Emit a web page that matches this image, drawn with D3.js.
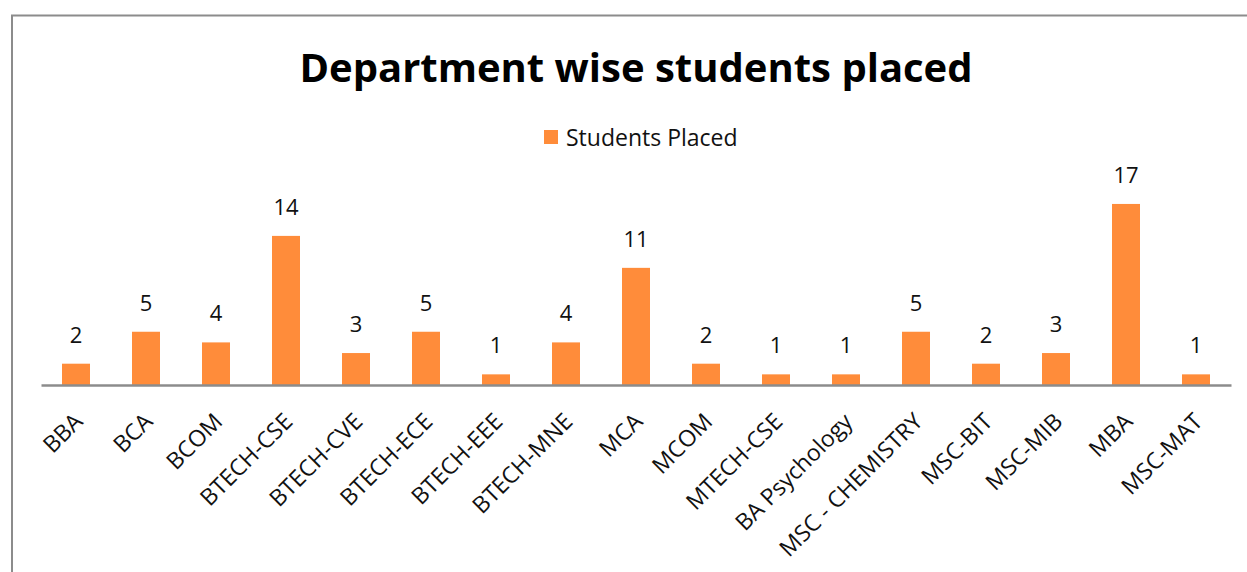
<!DOCTYPE html>
<html>
<head>
<meta charset="utf-8">
<script src="https://cdn.jsdelivr.net/npm/d3@7"></script>
<style>
  body { margin: 0; background: #fff; }
  svg { display: block; font-family: 'Open Sans', 'Noto Sans', sans-serif; }
</style>
</head>
<body>
<div id="chart"></div>
<script>
// chart data
const departments = ["BBA", "BCA", "BCOM", "BTECH-CSE", "BTECH-CVE", "BTECH-ECE", "BTECH-EEE",
    "BTECH-MNE", "MCA", "MCOM", "MTECH-CSE", "BA Psychology", "MSC - CHEMISTRY", "MSC-BIT",
    "MSC-MIB", "MBA", "MSC-MAT"];
const studentsPlaced = [2, 5, 4, 14, 3, 5, 1, 4, 11, 2, 1, 1, 5, 2, 3, 17, 1];
const seriesName = "Students Placed";
const chartTitle = "Department wise students placed";

const W = 1247, H = 572;
const margin = { top: 172, right: 16, bottom: 187, left: 41 };
const width = W - margin.left - margin.right;
const height = H - margin.top - margin.bottom;
const barColor = "#FF8C3A";

const svg = d3.select("#chart").append("svg")
    .attr("width", W)
    .attr("height", H);

// outer frame (only top and left visible in the crop)
svg.append("path")
    .attr("d", `M12,${H} L12,15.5 L${W},15.5`)
    .attr("fill", "none")
    .attr("stroke", "#8c8c8c")
    .attr("stroke-width", 2);

svg.append("text")
    .attr("x", 636)
    .attr("y", 82)
    .attr("text-anchor", "middle")
    .style("font-size", "40px")
    .style("font-weight", "bold")
    .style("fill", "#000")
    .text(chartTitle);

// legend
const legend = svg.append("g").attr("transform", "translate(544,130)");
legend.append("rect")
    .attr("width", 14).attr("height", 14)
    .attr("fill", barColor);
legend.append("text")
    .attr("x", 22).attr("y", 16)
    .style("font-size", "23px")
    .style("fill", "#111")
    .text(seriesName);

const g = svg.append("g")
    .attr("transform", `translate(${margin.left},${margin.top})`);

const x = d3.scaleBand()
    .domain(departments)
    .range([0, width])
    .paddingInner(0.6)
    .paddingOuter(0.3);

const y = d3.scaleLinear()
    .domain([0, 20])
    .range([height, 0]);

const data = departments.map((d, i) => ({ dept: d, value: studentsPlaced[i] }));

g.selectAll(".bar")
    .data(data)
    .enter().append("rect")
    .attr("class", "bar")
    .attr("x", d => x(d.dept))
    .attr("y", d => y(d.value))
    .attr("width", x.bandwidth())
    .attr("height", d => height - y(d.value))
    .attr("fill", barColor);

g.selectAll(".val")
    .data(data)
    .enter().append("text")
    .attr("class", "val")
    .attr("x", d => x(d.dept) + x.bandwidth() / 2)
    .attr("y", d => y(d.value) - 21)
    .attr("text-anchor", "middle")
    .style("font-size", "22px")
    .style("fill", "#111")
    .text(d => d.value);

// x axis
const xAxis = g.append("g")
    .attr("transform", `translate(0,${height})`)
    .call(d3.axisBottom(x).tickSize(0).tickSizeOuter(0));

xAxis.select(".domain")
    .attr("stroke", "#8c8c8c")
    .attr("stroke-width", 2.5);

xAxis.selectAll("text")
    .attr("y", 0)
    .attr("x", 0)
    .attr("dy", 0)
    .attr("transform", "translate(8,38) rotate(-45)")
    .style("text-anchor", "end")
    .style("font-size", "23px")
    .style("font-family", "'Open Sans', 'Noto Sans', sans-serif")
    .style("fill", "#111");
</script>
</body>
</html>
